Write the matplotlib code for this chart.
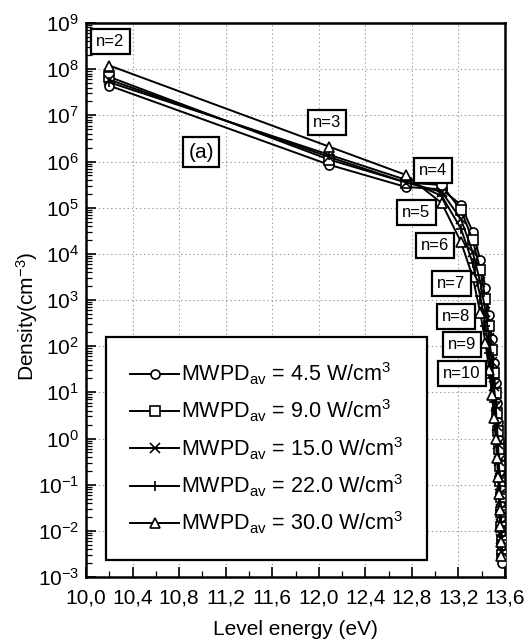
import matplotlib
matplotlib.use('Agg')
import matplotlib.pyplot as plt
from matplotlib.ticker import FixedLocator, LogLocator, NullFormatter, FuncFormatter, LogFormatterMathtext

plt.rcParams['font.family'] = ['Liberation Sans', 'DejaVu Sans']
plt.rcParams['mathtext.fontset'] = 'custom'
plt.rcParams['mathtext.rm'] = 'Liberation Sans'
plt.rcParams['mathtext.it'] = 'Liberation Sans:italic'
plt.rcParams['mathtext.bf'] = 'Liberation Sans:bold'

# Level energies of hydrogen levels n = 2 ... 25 (eV)
energy = [10.200, 12.089, 12.750, 13.056, 13.222, 13.322, 13.388, 13.432,
          13.464, 13.488, 13.506, 13.520, 13.531, 13.540, 13.547, 13.553,
          13.558, 13.562, 13.566, 13.569, 13.572, 13.574, 13.576, 13.578]

dens_4_5 = [4.4e7, 8.5e5, 2.8e5, 2.5e5, 1.15e5, 3.0e4, 7.4e3, 1.8e3, 4.8e2,
            1.4e2, 44, 16, 6.0, 2.3, 0.95, 0.40, 0.17, 0.079, 0.035, 0.017,
            0.0079, 0.0040, 0.0020]
dens_9_0 = [6.8e7, 1.1e6, 3.5e5, 3.1e5, 8.9e4, 2.0e4, 4.5e3, 1.05e3, 2.8e2,
            83, 26, 9.5, 3.6, 1.45, 0.60, 0.26, 0.12, 0.054, 0.025, 0.012,
            0.0059, 0.0030]
dens_15_0 = [5.9e7, 1.25e6, 3.5e5, 2.2e5, 5.6e4, 1.1e4, 2.4e3, 5.6e2, 1.5e2,
             45, 14, 5.0, 1.9, 0.76, 0.32, 0.14, 0.063, 0.029, 0.014, 0.0068,
             0.0034]
dens_22_0 = [5.2e7, 1.4e6, 4.0e5, 1.8e5, 3.5e4, 6.3e3, 1.2e3, 2.7e2, 71,
             20, 6.3, 2.2, 0.85, 0.34, 0.14, 0.063, 0.028, 0.013, 0.0063,
             0.0032]
dens_30_0 = [1.2e8, 2.1e6, 5.1e5, 1.26e5, 1.8e4, 3.2e3, 5.2e2, 1.2e2, 31,
             8.9, 2.8, 1.0, 0.38, 0.15, 0.063, 0.028, 0.0126, 0.0056, 0.0028]

series_labels = [r'MWPD$_{\mathregular{av}}$ = 4.5 W/cm$^{\mathregular{3}}$',
                 r'MWPD$_{\mathregular{av}}$ = 9.0 W/cm$^{\mathregular{3}}$',
                 r'MWPD$_{\mathregular{av}}$ = 15.0 W/cm$^{\mathregular{3}}$',
                 r'MWPD$_{\mathregular{av}}$ = 22.0 W/cm$^{\mathregular{3}}$',
                 r'MWPD$_{\mathregular{av}}$ = 30.0 W/cm$^{\mathregular{3}}$']
series_data = [dens_4_5, dens_9_0, dens_15_0, dens_22_0, dens_30_0]
series_markers = ['o', 's', 'x', '+', '^']

level_labels = ['n=2', 'n=3', 'n=4', 'n=5', 'n=6', 'n=7', 'n=8', 'n=9', 'n=10']
level_label_x = [10.21, 12.07, 12.98, 12.84, 13.00, 13.14, 13.18, 13.23, 13.23]
level_label_y = [3.9e8, 6.9e6, 6.4e5, 7.8e4, 1.5e4, 2.3e3, 4.4e2, 1.1e2, 2.6e1]

xticks = [10.0, 10.4, 10.8, 11.2, 11.6, 12.0, 12.4, 12.8, 13.2, 13.6]

fig = plt.figure(figsize=(5.29, 6.44), dpi=100)
ax = fig.add_axes([86/529, 1-577/644, (505-86)/529, (577-23)/644])

for data, mk, lab in zip(series_data, series_markers, series_labels):
    n = len(data)
    ax.plot(energy[:n], data, color='black', lw=1.4, marker=mk,
            markersize=6.5 if mk in 'os^' else 7, markerfacecolor='white',
            markeredgecolor='black', markeredgewidth=1.2, label=lab, zorder=3)

ax.set_yscale('log')
ax.set_xlim(10.0, 13.6)
ax.set_ylim(1e-3, 1e9)

ax.xaxis.set_major_locator(FixedLocator(xticks))
ax.xaxis.set_minor_locator(FixedLocator([10.2 + 0.4*i for i in range(9)]))
ax.xaxis.set_major_formatter(FuncFormatter(lambda v, p: f'{v:.1f}'.replace('.', ',')))
ax.yaxis.set_major_locator(LogLocator(base=10, numticks=20))
ax.yaxis.set_minor_locator(LogLocator(base=10, subs=[2, 3, 4, 5, 6, 7, 8, 9], numticks=20))
ax.yaxis.set_minor_formatter(NullFormatter())
ax.yaxis.set_major_formatter(LogFormatterMathtext())

ax.tick_params(axis='both', which='both', direction='in', top=False, right=False,
               labelsize=15)
ax.tick_params(axis='both', which='major', length=7, width=1.2)
ax.tick_params(axis='both', which='minor', length=4, width=0.9)
ax.tick_params(axis='x', pad=8)
ax.tick_params(axis='y', pad=5)

ax.grid(True, which='major', color='#999999', linestyle=(0, (1.2, 2.5)), linewidth=0.8)
for s in ax.spines.values():
    s.set_linewidth(1.8)

ax.set_xlabel('Level energy (eV)', fontsize=15, labelpad=9)
ax.set_ylabel(r'Density(cm$^{\mathregular{-3}}$)', fontsize=15)
ax.yaxis.set_label_coords(-0.11, 0.47)

for t, xx, yy in zip(level_labels, level_label_x, level_label_y):
    ax.text(xx, yy, t, fontsize=12, ha='center', va='center', zorder=5,
            bbox=dict(boxstyle='square,pad=0.3', fc='white', ec='black', lw=1.6))
ax.text(10.99, 1.6e6, '(a)', fontsize=15, ha='center', va='center', zorder=5,
        bbox=dict(boxstyle='square,pad=0.25', fc='white', ec='black', lw=1.6))

leg = ax.legend(loc='lower left', bbox_to_anchor=(0.048, 0.031), fontsize=15.5,
                frameon=True, fancybox=False, edgecolor='black', framealpha=1,
                handlelength=2.3, handletextpad=0.1, labelspacing=0.5,
                borderpad=1.1, borderaxespad=0)
leg.get_frame().set_linewidth(1.6)
leg.set_zorder(6)

fig.savefig('out.png', dpi=100)
